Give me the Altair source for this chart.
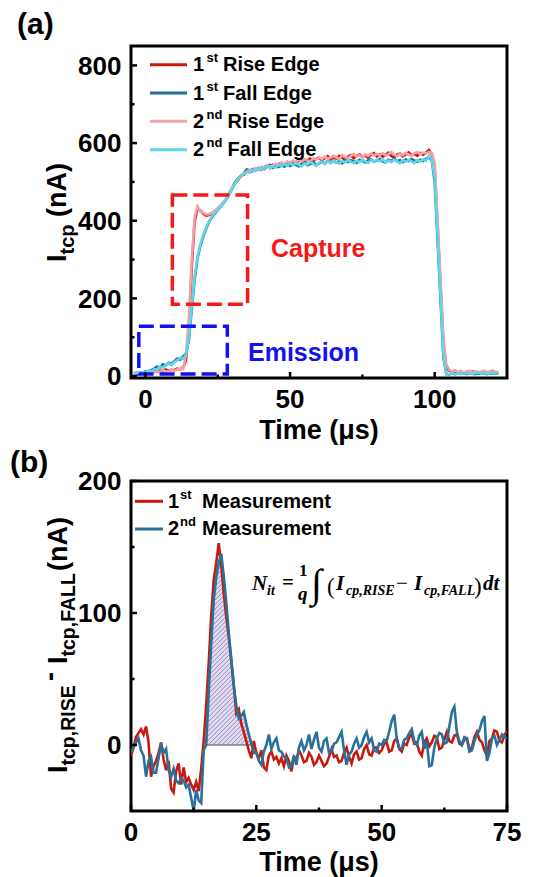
import altair as alt
import numpy as np
import pandas as pd

# ---------------- panel (a) data ----------------
T_A = list(range(-4, 123))  # time, µs
RISE_1 = [6, 9, 5, 8,
          7, 10, 8, 13, 11, 14, 12, 17, 14, 16,
          15, 19, 17, 21, 40, 125, 280, 398, 433, 426,
          418, 413, 415, 419, 425, 431, 438, 446, 456, 469,
          483, 497, 505, 516, 519, 527, 525, 533, 529, 536,
          531, 538, 541, 536, 544, 540, 546, 549, 543, 551,
          548, 553, 547, 555, 558, 551, 556, 560, 553, 559,
          562, 556, 561, 566, 558, 563, 560, 567, 562, 558,
          565, 569, 561, 566, 571, 564, 568, 562, 570, 574,
          566, 571, 565, 569, 575, 567, 563, 570, 573, 566,
          571, 576, 568, 572, 567, 574, 570, 575, 582, 571,
          535, 385, 235, 85, 22, 14, 11, 13, 9, 12,
          8, 11, 9, 12, 8, 10, 9, 12, 7, 10,
          12, 8, 9]
FALL_1 = [7, 6, 9, 8,
          12, 10, 15, 19, 24, 22, 30, 27, 34, 31,
          38, 45, 42, 50, 58, 92, 172, 248, 303, 336,
          360, 380, 397, 409, 419, 427, 436, 446, 457, 471,
          485, 499, 509, 515, 522, 532, 530, 527, 534, 531,
          537, 533, 540, 544, 536, 541, 538, 543, 539, 545,
          541, 547, 544, 540, 548, 551, 543, 546, 550, 545,
          547, 552, 548, 554, 549, 555, 550, 553, 548, 555,
          551, 556, 553, 549, 557, 554, 550, 556, 558, 552,
          555, 559, 553, 550, 557, 554, 560, 553, 556, 551,
          558, 554, 559, 555, 552, 557, 554, 560, 563, 556,
          500, 350, 200, 50, 6, 4, 7, 5, 8, 6,
          7, 5, 8, 6, 5, 7, 6, 8, 5, 7,
          6, 8, 5]
RISE_2 = [9, 7, 8, 6,
          9, 7, 11, 9, 13, 10, 15, 12, 13, 16,
          14, 17, 19, 18, 55, 150, 300, 410, 437, 424,
          420, 416, 417, 421, 426, 433, 440, 448, 458, 470,
          486, 495, 508, 514, 522, 524, 531, 528, 535, 532,
          539, 535, 543, 539, 542, 547, 543, 550, 546, 552,
          549, 555, 551, 557, 553, 559, 555, 552, 561, 557,
          563, 559, 565, 560, 562, 567, 563, 558, 569, 564,
          561, 567, 572, 565, 569, 563, 571, 567, 573, 568,
          572, 569, 574, 568, 571, 577, 570, 566, 573, 569,
          575, 570, 567, 574, 577, 571, 576, 573, 577, 575,
          548, 400, 250, 100, 30, 16, 12, 15, 10, 13,
          9, 12, 14, 10, 13, 9, 11, 14, 10, 12,
          15, 10, 11]
FALL_2 = [5, 8, 7, 10,
          9, 14, 12, 18, 16, 25, 21, 29, 33, 28,
          36, 41, 47, 44, 56, 98, 180, 255, 308, 340,
          364, 383, 399, 411, 421, 428, 437, 445, 455, 468,
          482, 496, 507, 516, 521, 527, 524, 531, 528, 535,
          532, 538, 541, 535, 540, 537, 544, 540, 546, 542,
          547, 543, 549, 544, 540, 548, 545, 551, 547, 541,
          549, 552, 546, 553, 549, 555, 551, 547, 554, 550,
          556, 552, 548, 555, 551, 557, 553, 549, 556, 552,
          557, 553, 558, 550, 555, 551, 557, 553, 548, 556,
          552, 557, 553, 549, 556, 552, 558, 555, 567, 557,
          510, 360, 210, 55, 3, 5, 8, 4, 7, 5,
          8, 6, 9, 5, 7, 10, 6, 9, 5, 8,
          7, 9, 6]
CAPTURE_BOX = [9.3, 35.3, 185, 466]     # x1, x2, y1, y2
EMISSION_BOX = [-2.3, 28.3, 5, 128]

# ---------------- panel (b) data ----------------
T_B = [i * 0.5 for i in range(151)]
MEAS_1 = [-8, -2, 6, 9, 12, 8, 14, 2, -24, -16,
          -12, -6, 2, -11, -19, -12, -33, -36, -20, -14,
          -30, -17, -28, -25, -30, -34, -28, -35, -18, 3,
          30, 62, 98, 125, 138, 153, 136, 115, 97, 82,
          64, 45, 24, 27, 16, 10, 3, -4, -10, 3,
          -6, -10, -4, -17, -19, -8, -5, -11, -9, -14,
          -10, -16, -8, -12, -20, -9, -11, -4, -8, -13,
          -12, -6, -9, -15, -13, -8, -12, -16, -14, -9,
          -3, -9, -8, -13, -12, -6, -2, -9, -14, -7,
          -5, -11, -10, -3, 0, -7, -8, -2, -2, -6,
          -4, 1, 2, -5, -4, 3, 5, -3, -5, 1,
          0, 6, 8, 1, 2, -5, -8, 2, 5, -1,
          2, 7, 6, -3, -2, 4, 10, 3, 2, 7,
          8, 1, 0, 4, 5, -3, -2, 6, 10, 4,
          2, -4, -8, 3, 5, 11, 10, 3, 2, 8,
          10]
MEAS_2 = [-5, -2, 2, 5, -4, -8, -24, -12, -9, -21,
          -21, -10, 1, -6, -3, -19, -24, -18, -27, -29,
          -25, -27, -32, -30, -40, -50, -34, -42, -44, -4,
          0, 40, 77, 110, 127, 138, 145, 128, 108, 85,
          65, 45, 30, 20, 22, 25, 16, 8, 1, -6,
          -6, -12, -15, -5, 0, 8, -3, 2, 5, -4,
          -5, -9, -10, -17, -16, -8, -15, -2, 3, -4,
          0, 8, -3, 4, 10, -2, -5, 3, 5, -6,
          -5, 1, 2, 6, 10, -4, -15, -7, -5, 1,
          5, -2, 0, 6, 10, 2, 5, -4, -5, 1,
          0, 4, 3, 10, 18, 23, 5, -2, -3, 4,
          5, 9, 12, 3, 0, 7, 10, -3, 3, -16,
          -15, -2, 5, 9, 8, 1, 2, 14, 25, 29,
          10, 3, 0, 6, 5, -5, -4, 3, 8, 11,
          18, 22, -12, -6, 5, 7, 0, 4, 8, 6,
          5]
AREA_RANGE = [15.0, 24.0]

# axis tick values
A_XT, A_XM = [0, 50, 100], [25, 75]
A_YT, A_YM = [0, 200, 400, 600, 800], [100, 300, 500, 700]
B_XT, B_XM = [0, 25, 50, 75], [12.5, 37.5, 62.5]
B_YT, B_YM = [0, 100, 200], [50, 150]
X_TITLE = "Time (μs)"

FONT = "Liberation Sans"
SERIF = "Liberation Serif"
C_R1, C_F1, C_R2, C_F2 = "#C8190F", "#1F6F9E", "#F4A1A6", "#5ED6E8"
C_M1, C_M2 = "#C8190F", "#2A7199"

W_A, H_A = 376, 332
W_B, H_B = 376, 330
DUMMY = pd.DataFrame({"d": [0]})


def txt(s, x, y, size, color="black", weight="bold", style=None, font=FONT, angle=None, align="left"):
    kw = dict(text=s, fontSize=size, color=color, fontWeight=weight, font=font,
              align=align, baseline="alphabetic")
    if style:
        kw["fontStyle"] = style
    if angle is not None:
        kw["angle"] = angle
    return alt.Chart(DUMMY).mark_text(**kw).encode(x=alt.value(x), y=alt.value(y))


def hline(x1, x2, y, color, width=3):
    return alt.Chart(DUMMY).mark_rule(color=color, strokeWidth=width).encode(
        x=alt.value(x1), x2=alt.value(x2), y=alt.value(y))


def yticks(vals, scale, length):
    return alt.Chart(pd.DataFrame({"v": vals})).mark_rule(color="black", strokeWidth=2.5).encode(
        y=alt.Y("v:Q", scale=scale, axis=None), x=alt.value(0), x2=alt.value(length))


def xticks(vals, scale, length, h):
    return alt.Chart(pd.DataFrame({"v": vals})).mark_rule(color="black", strokeWidth=2.5).encode(
        x=alt.X("v:Q", scale=scale, axis=None), y=alt.value(h), y2=alt.value(h - length))


def xlabels(vals, scale, h):
    df = pd.DataFrame({"v": vals, "lab": [str(v) for v in vals]})
    return alt.Chart(df).mark_text(font=FONT, fontSize=26, fontWeight="bold", color="black",
                                   align="center", baseline="alphabetic").encode(
        x=alt.X("v:Q", scale=scale, axis=None), y=alt.value(h + 30), text="lab:N")


def ylabels(vals, scale):
    df = pd.DataFrame({"v": vals, "lab": [str(v) for v in vals]})
    return alt.Chart(df).mark_text(font=FONT, fontSize=26, fontWeight="bold", color="black",
                                   align="right", baseline="alphabetic", dy=9.3).encode(
        y=alt.Y("v:Q", scale=scale, axis=None), x=alt.value(-9.5), text="lab:N")


# ---------------- panel (a) ----------------
xa = alt.Scale(domain=[-5, 125], nice=False, zero=False)
ya = alt.Scale(domain=[-5, 850], nice=False, zero=False)

layers_a = []
for vals, col in [(RISE_1, C_R1), (FALL_1, C_F1), (RISE_2, C_R2), (FALL_2, C_F2)]:
    df = pd.DataFrame({"t": T_A, "v": vals})
    layers_a.append(alt.Chart(df).mark_line(color=col, strokeWidth=2.6, clip=True).encode(
        x=alt.X("t:Q", scale=xa, axis=None), y=alt.Y("v:Q", scale=ya, axis=None)))

for box, col in [(CAPTURE_BOX, "#F51A1A"), (EMISSION_BOX, "#1212EE")]:
    bdf = pd.DataFrame({"x1": [box[0]], "x2": [box[1]], "y1": [box[2]], "y2": [box[3]]})
    layers_a.append(alt.Chart(bdf).mark_rect(fillOpacity=0, stroke=col, strokeWidth=3.5,
                                             strokeDash=[15, 6]).encode(
        x=alt.X("x1:Q", scale=xa, axis=None), x2="x2:Q",
        y=alt.Y("y1:Q", scale=ya, axis=None), y2="y2:Q"))

layers_a += [yticks(A_YT, ya, 6), yticks(A_YM, ya, 3.5),
             xticks(A_XT, xa, 6, H_A), xticks(A_XM, xa, 3.5, H_A),
             xlabels(A_XT, xa, H_A), ylabels(A_YT, ya)]
layers_a.append(txt(X_TITLE, W_A / 2, H_A + 60.5, 27, align="center"))

layers_a.append(txt("Capture", 140, 211, 25, color="#F51A1A"))
layers_a.append(txt("Emission", 117, 315, 25, color="#1212EE"))

# legend (a)
leg_a = [("1", "st", "Rise Edge", C_R1, 92), ("1", "st", "Fall Edge", C_F1, 92),
         ("2", "nd", "Rise Edge", C_R2, 96.5), ("2", "nd", "Fall Edge", C_F2, 96.5)]
for k, (num, sup, lab, col, xt) in enumerate(leg_a):
    yy = 18.7 + 28.33 * k
    layers_a.append(hline(19, 56, yy, col))
    layers_a.append(txt(num, 62, yy + 6.5, 20))
    layers_a.append(txt(sup, 75.5, yy - 2.5, 13))
    layers_a.append(txt(lab, xt, yy + 6.5, 20))

# y title (a)
layers_a.append(txt("I", -65, 216, 27, angle=270))
layers_a.append(txt("tcp", -57, 208.5, 20, angle=270))
layers_a.append(txt("(nA)", -65, 171, 27, angle=270))
layers_a.append(txt("(a)", -114, -12, 30))

panel_a = alt.layer(*layers_a).properties(width=W_A, height=H_A)

# ---------------- panel (b) ----------------
xb = alt.Scale(domain=[0, 75], nice=False, zero=False)
yb = alt.Scale(domain=[-50, 200], nice=False, zero=False)

area_t = [t for t in T_B if AREA_RANGE[0] <= t <= AREA_RANGE[1]]
area_v = [max(v, 0) for t, v in zip(T_B, MEAS_2) if AREA_RANGE[0] <= t <= AREA_RANGE[1]]
area_df = pd.DataFrame({"t": area_t, "v": area_v, "z": [0] * len(area_t)})

# hatch lines (45 degrees on screen) clipped to the shaded area
kx, ky = W_B / 75.0, H_B / 250.0
ratio = kx / ky
xs = np.linspace(AREA_RANGE[0], AREA_RANGE[1], 3000)
fs = np.interp(xs, area_t, area_v)
segs = []
step = 4.6 / kx
c = AREA_RANGE[0] - max(area_v) / ratio
while c < AREA_RANGE[1]:
    yl = (xs - c) * ratio
    m = (yl >= 0) & (yl <= fs)
    if m.any():
        xa_, xb_ = xs[m].min(), xs[m].max()
        segs.append({"x1": xa_, "y1": (xa_ - c) * ratio, "x2": xb_, "y2": (xb_ - c) * ratio})
    c += step
hatch_df = pd.DataFrame(segs)

layers_b = []
layers_b.append(alt.Chart(area_df).mark_area(color="#F0D4F5", opacity=1).encode(
    x=alt.X("t:Q", scale=xb, axis=None), y=alt.Y("v:Q", scale=yb, axis=None), y2="z:Q"))
layers_b.append(alt.Chart(hatch_df).mark_rule(color="#3F989C", strokeWidth=0.8).encode(
    x=alt.X("x1:Q", scale=xb, axis=None), y=alt.Y("y1:Q", scale=yb, axis=None),
    x2="x2:Q", y2="y2:Q"))
layers_b.append(alt.Chart(area_df).mark_line(color="#1F8585", strokeWidth=1.5).encode(
    x=alt.X("t:Q", scale=xb, axis=None), y=alt.Y("v:Q", scale=yb, axis=None)))
layers_b.append(alt.Chart(area_df).mark_line(color="#808080", strokeWidth=1.5).encode(
    x=alt.X("t:Q", scale=xb, axis=None), y=alt.Y("z:Q", scale=yb, axis=None)))

for vals, col in [(MEAS_1, C_M1), (MEAS_2, C_M2)]:
    df = pd.DataFrame({"t": T_B, "v": vals})
    layers_b.append(alt.Chart(df).mark_line(color=col, strokeWidth=2.6, clip=True).encode(
        x=alt.X("t:Q", scale=xb, axis=None), y=alt.Y("v:Q", scale=yb, axis=None)))

layers_b += [yticks(B_YT, yb, 6), yticks(B_YM, yb, 3.5),
             xticks(B_XT, xb, 6, H_B), xticks(B_XM, xb, 3.5, H_B),
             xlabels(B_XT, xb, H_B), ylabels(B_YT, yb)]
layers_b.append(txt(X_TITLE, W_B / 2, H_B + 59.5, 27, align="center"))

# legend (b)
for k, (num, sup, col) in enumerate([("1", "st", C_M1), ("2", "nd", C_M2)]):
    yy = 20.3 + 27.7 * k
    layers_b.append(hline(4, 32, yy, col))
    layers_b.append(txt(num, 37, yy + 6.3, 20))
    layers_b.append(txt(sup, 49, yy - 2.8, 13))
    layers_b.append(txt("Measurement", 71, yy + 6.3, 20))

# formula
formula = [("N", 121, 109, 21, "bold", "italic", SERIF),
           ("it", 136, 114, 14, "bold", "italic", SERIF),
           ("=", 151, 108, 21, "bold", None, SERIF),
           ("1", 168, 95, 17, "bold", None, SERIF),
           ("q", 167, 119, 19, "bold", "italic", SERIF),
           ("∫", 180, 116, 40, "normal", None, SERIF),
           ("(", 196, 113, 23, "normal", None, SERIF),
           ("I", 205, 109, 21, "bold", "italic", SERIF),
           ("cp,RISE", 215, 114, 14, "bold", "italic", SERIF),
           ("−", 265, 109, 21, "normal", None, SERIF),
           ("I", 283, 109, 21, "bold", "italic", SERIF),
           ("cp,FALL", 293, 114, 14, "bold", "italic", SERIF),
           (")", 343, 113, 23, "normal", None, SERIF),
           ("dt", 352, 109, 21, "bold", "italic", SERIF)]
for s, x, y, size, w, st, f in formula:
    layers_b.append(txt(s, x, y, size, weight=w, style=st, font=f))

# y title (b)
layers_b.append(txt("I", -64, 292, 27, angle=270))
layers_b.append(txt("tcp,RISE", -56, 284.5, 19.5, angle=270))
layers_b.append(txt("-", -72, 200, 27, angle=270))
layers_b.append(txt("I", -64, 183, 27, angle=270))
layers_b.append(txt("tcp,FALL", -56, 175.5, 19.5, angle=270))
layers_b.append(txt("(nA)", -64, 90, 27, angle=270))
layers_b.append(txt("(b)", -121, -9.5, 30))

panel_b = alt.layer(*layers_b).properties(width=W_B, height=H_B)

chart = alt.vconcat(panel_a, panel_b, spacing=103, bounds="flush").properties(
    padding=0, background="white"
).configure_view(stroke="black", strokeWidth=3)

chart.save("out.html", embed_options={"renderer": "svg", "actions": False})
